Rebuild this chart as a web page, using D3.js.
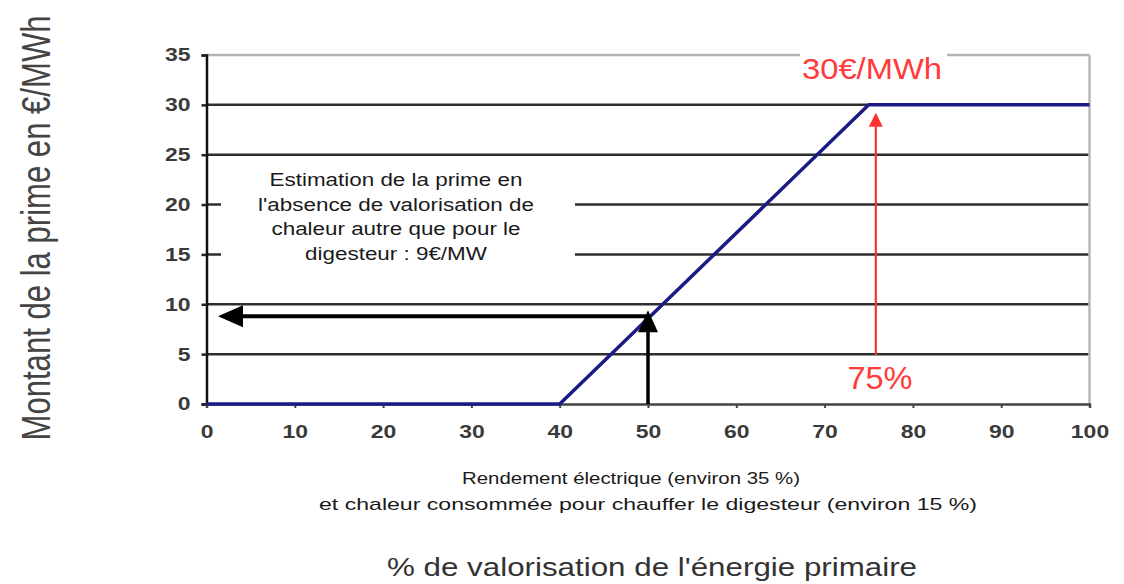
<!DOCTYPE html>
<html>
<head>
<meta charset="utf-8">
<script src="https://cdn.jsdelivr.net/npm/d3@7"></script>
<style>
  html, body { margin: 0; padding: 0; background: #fff; }
  svg { display: block; font-family: "Liberation Sans", Arial, sans-serif; }
</style>
</head>
<body>
<svg id="chart" width="1124" height="584"></svg>
<script>
// Axis ticks
const xTicks = [0, 10, 20, 30, 40, 50, 60, 70, 80, 90, 100];
const yTicks = [0, 5, 10, 15, 20, 25, 30, 35];

// Premium curve: % of primary energy recovered -> €/MWh
const primeX = [0, 40, 75, 100];
const primeY = [0, 0, 30, 30];

// Estimate without heat recovery (arrows from x=50 up to the curve and across to the axis)
const estimX = [50, 50, 1.3];
const estimY = [0, 9.4, 8.8];

// 75 % threshold marker
const capX = [75.8, 75.8];
const capY = [4.9, 29.2];

const noteLines = [
  "Estimation de la prime en",
  "l'absence de valorisation de",
  "chaleur autre que pour le",
  "digesteur : 9€/MW"
];
const captionLines = [
  "Rendement électrique (environ 35 %)",
  "et chaleur consommée pour chauffer le digesteur (environ 15 %)"
];
const xTitle = "% de valorisation de l'énergie primaire";
const yTitle = "Montant de la prime en €/MWh";
const capLabel = "30€/MWh";
const pctLabel = "75%";

const svg = d3.select("#chart");
const x = d3.scaleLinear().domain([0, 100]).range([206.5, 1089.5]);
const y = d3.scaleLinear().domain([0, 35]).range([404, 55]);

// widen glyphs horizontally by factor k
function widen(sel, k) {
  sel.each(function () {
    const w = this.getComputedTextLength();
    d3.select(this).attr("textLength", w * k).attr("lengthAdjust", "spacingAndGlyphs");
  });
}
const K = 1.24;

// Gridlines
svg.append("g").selectAll("line")
  .data(yTicks.filter(v => v > 0 && v < 35))
  .join("line")
  .attr("x1", x(0)).attr("x2", x(100))
  .attr("y1", d => y(d)).attr("y2", d => y(d))
  .attr("stroke", "#2e2e2e").attr("stroke-width", 2.5);

// Plot frame: light top and right edges
svg.append("line").attr("x1", x(0)).attr("x2", x(100)).attr("y1", y(35)).attr("y2", y(35))
  .attr("stroke", "#b4b4b4").attr("stroke-width", 2.5);
svg.append("line").attr("x1", x(100)).attr("x2", x(100)).attr("y1", y(35)).attr("y2", y(0))
  .attr("stroke", "#b8b8b8").attr("stroke-width", 2.5);

// Y axis
const gy = svg.append("g").attr("transform", `translate(${x(0)},0)`)
  .call(d3.axisLeft(y).tickValues(yTicks).tickSize(5).tickPadding(11));
gy.select(".domain").attr("stroke", "#111").attr("stroke-width", 2.5);
gy.selectAll(".tick line").attr("stroke", "#222").attr("stroke-width", 2.5);
gy.selectAll(".tick text").attr("font-size", 18.5).attr("font-weight", "bold")
  .attr("fill", "#3a3a3a").attr("font-family", "Liberation Sans, Arial, sans-serif")
  .call(widen, K);

// X axis
const gx = svg.append("g").attr("transform", `translate(0,${y(0)})`)
  .call(d3.axisBottom(x).tickValues(xTicks).tickSize(4).tickPadding(17));
gx.select(".domain").attr("stroke", "#444").attr("stroke-width", 2.5);
gx.selectAll(".tick line").attr("stroke", "#444").attr("stroke-width", 2);
gx.selectAll(".tick text").attr("font-size", 18.5).attr("font-weight", "bold")
  .attr("fill", "#3a3a3a").attr("font-family", "Liberation Sans, Arial, sans-serif")
  .call(widen, K);

// Note box hiding part of the grid
svg.append("rect").attr("x", 221).attr("y", 162).attr("width", 354).attr("height", 104).attr("fill", "#fff");
svg.append("g").selectAll("text").data(noteLines).join("text")
  .attr("x", 396).attr("y", (d, i) => 186 + i * 24.5)
  .attr("text-anchor", "middle").attr("font-size", 17.5).attr("fill", "#1a1a1a")
  .text(d => d).call(widen, 1.28);

// Premium curve
const line = d3.line().x(d => x(d[0])).y(d => y(d[1]));
svg.append("path").datum(primeX.map((v, i) => [v, primeY[i]]))
  .attr("d", line).attr("fill", "none").attr("stroke", "#1b1b85").attr("stroke-width", 3.5)
  .attr("stroke-linejoin", "round");

// Black arrows
const ePts = estimX.map((v, i) => [x(v), y(estimY[i])]);
svg.append("line").attr("x1", ePts[0][0]).attr("y1", ePts[0][1])
  .attr("x2", ePts[1][0]).attr("y2", ePts[1][1] + 20)
  .attr("stroke", "#000").attr("stroke-width", 3.5);
svg.append("path")
  .attr("d", `M${ePts[1][0]},${ePts[1][1]} l-10,22 l20,0 Z`).attr("fill", "#000");
svg.append("line").attr("x1", ePts[0][0] + 1).attr("y1", ePts[2][1])
  .attr("x2", ePts[2][0] + 20).attr("y2", ePts[2][1])
  .attr("stroke", "#000").attr("stroke-width", 4);
svg.append("path")
  .attr("d", `M${ePts[2][0]},${ePts[2][1]} l25,-11 l0,22 Z`).attr("fill", "#000");

// Red threshold arrow
const c0 = [x(capX[0]), y(capY[0])], c1 = [x(capX[1]), y(capY[1])];
svg.append("line").attr("x1", c0[0]).attr("y1", c0[1]).attr("x2", c1[0]).attr("y2", c1[1] + 12)
  .attr("stroke", "#ff3030").attr("stroke-width", 2.2);
svg.append("path").attr("d", `M${c1[0]},${c1[1]} l-7,14 l14,0 Z`).attr("fill", "#ff3030");

// Red labels
svg.append("rect").attr("x", 800).attr("y", 45).attr("width", 147).attr("height", 40).attr("fill", "#fff");
svg.append("text").attr("x", 872).attr("y", 79).attr("text-anchor", "middle")
  .attr("font-size", 29).attr("fill", "#ff3a3a").text(capLabel)
  .attr("textLength", 140).attr("lengthAdjust", "spacingAndGlyphs");
svg.append("text").attr("x", 880).attr("y", 389).attr("text-anchor", "middle")
  .attr("font-size", 31).attr("fill", "#ff3a3a").text(pctLabel)
  .attr("textLength", 65).attr("lengthAdjust", "spacingAndGlyphs");

// Caption under the axis
svg.append("g").selectAll("text").data(captionLines).join("text")
  .attr("x", (d, i) => i === 0 ? 631 : 648).attr("y", (d, i) => 484 + i * 26)
  .attr("text-anchor", "middle").attr("font-size", 17).attr("fill", "#1a1a1a")
  .text(d => d)
  .each(function (d, i) {
    d3.select(this).attr("textLength", i === 0 ? 338 : 658).attr("lengthAdjust", "spacingAndGlyphs");
  });

// Axis titles
svg.append("text").attr("x", 652).attr("y", 576).attr("text-anchor", "middle")
  .attr("font-size", 25).attr("fill", "#333").text(xTitle)
  .attr("textLength", 530).attr("lengthAdjust", "spacingAndGlyphs");
svg.append("text")
  .attr("transform", "translate(50,228) scale(1.3,1) rotate(-90)")
  .attr("text-anchor", "middle").attr("font-size", 31).attr("fill", "#444").text(yTitle)
  .attr("textLength", 425).attr("lengthAdjust", "spacingAndGlyphs");
</script>
</body>
</html>
